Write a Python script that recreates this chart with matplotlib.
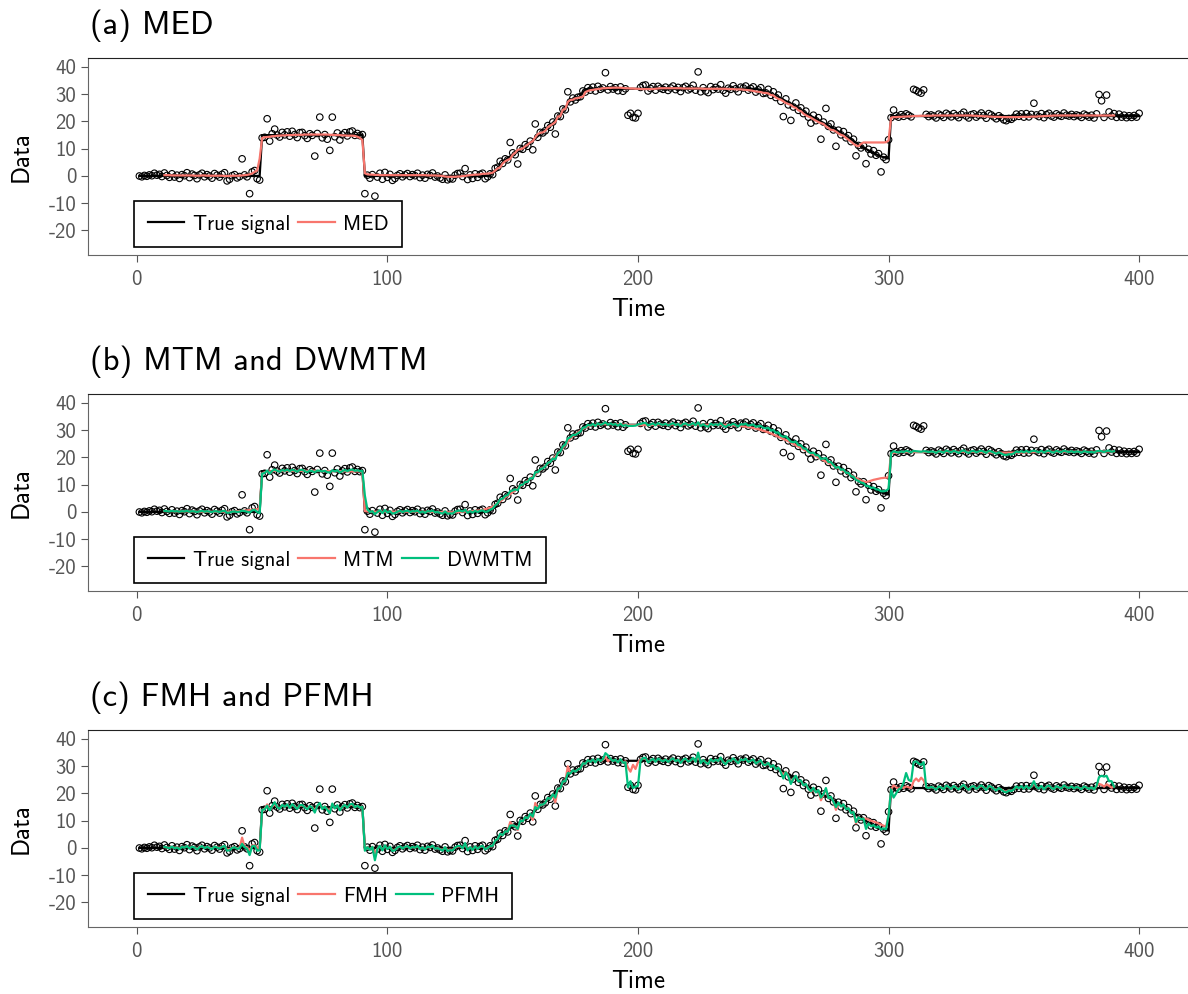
import numpy as np
import matplotlib.pyplot as plt

plt.rcParams['font.family'] = ['cmss10', 'DejaVu Sans']
plt.rcParams['axes.unicode_minus'] = False

# observed series, t = 1..400
time = np.arange(1, 401)
obs = [
    0.0, -0.3, 0.2, -0.1, 0.4, 0.1, 1.0, 0.3, 0.6, -0.2,
    1.1, 0.2, -0.5, 0.8, -0.4, 0.3, -0.9, 0.5, 0.1, 1.2,
    -0.6, 0.7, 0.2, -1.0, 0.4, 1.0, -0.3, 0.5, 0.0, -0.8,
    0.9, 0.3, -0.4, 0.6, 1.2, -1.8, -1.2, 0.1, 0.5, -0.7,
    -0.2, 6.3, 0.4, -0.3, -6.5, 1.5, 2.0, -1.0, -1.5, 14.0,
    14.2, 21.0, 12.8, 15.5, 17.2, 15.0, 14.3, 16.0, 15.1, 16.2,
    14.6, 16.4, 15.2, 14.1, 15.9, 16.0, 14.8, 13.8, 15.5, 14.9,
    7.3, 15.6, 21.6, 14.0, 15.2, 13.5, 9.4, 21.6, 14.4, 15.8,
    13.2, 15.1, 15.9, 14.7, 16.2, 16.5, 14.9, 15.6, 14.8, 15.2,
    -6.5, 0.3, -0.8, 0.5, -7.4, -0.4, 1.0, -1.2, 1.3, -0.5,
    0.6, -1.6, -0.9, 0.2, 0.8, -0.3, 0.4, 0.9, -0.2, 0.5,
    0.1, 1.0, -0.6, 0.3, -0.8, 0.6, 0.2, 1.1, -0.4, 0.0,
    -0.7, -1.2, 0.4, -1.4, -0.9, -1.1, 0.3, 0.9, 1.0, -0.2,
    2.7, -1.3, 0.4, -0.9, 0.8, -0.5, 0.6, 1.0, -1.0, -0.3,
    0.8, 0.5, 2.8, 3.2, 5.4, 4.6, 6.3, 5.9, 12.3, 8.5,
    7.8, 4.4, 10.1, 9.8, 11.5, 10.9, 12.8, 9.6, 19.1, 14.2,
    16.0, 15.8, 16.6, 18.5, 17.9, 19.8, 15.4, 22.0, 21.8, 24.6,
    24.3, 30.9, 27.2, 28.6, 27.9, 28.9, 29.1, 31.2, 30.8, 32.4,
    31.5, 32.6, 31.2, 32.9, 31.8, 32.3, 37.9, 31.6, 32.8, 31.9,
    32.4, 31.3, 32.7, 31.1, 32.0, 22.3, 23.0, 21.5, 21.3, 23.0,
    32.5, 33.2, 33.4, 31.2, 32.1, 32.8, 31.5, 32.9, 32.2, 31.8,
    32.6, 31.4, 32.3, 33.0, 31.7, 32.5, 31.0, 32.4, 32.9, 31.6,
    32.1, 33.3, 31.5, 38.2, 30.9, 32.4, 31.2, 30.6, 32.8, 31.7,
    32.5, 31.9, 33.5, 31.4, 30.4, 32.2, 31.8, 33.1, 32.0, 30.9,
    32.6, 32.3, 33.0, 31.5, 32.1, 32.7, 30.8, 31.6, 32.4, 30.3,
    30.5, 31.8, 29.6, 30.9, 28.8, 29.7, 27.4, 21.8, 28.3, 26.1,
    20.4, 25.3, 26.8, 24.1, 25.0, 22.9, 23.8, 21.6, 19.4, 22.3,
    20.3, 21.4, 13.5, 19.8, 24.8, 18.2, 19.1, 16.9, 10.9, 16.8,
    15.1, 16.3, 14.0, 14.8, 12.6, 13.5, 7.4, 11.2, 10.3, 11.1,
    4.5, 9.8, 8.1, 9.3, 7.6, 8.2, 1.5, 6.9, 6.0, 13.3,
    21.4, 24.2, 22.1, 21.6, 22.5, 21.9, 22.8, 22.3, 21.7, 31.8,
    31.4, 30.8, 30.4, 31.6, 22.6, 21.8, 22.4, 22.0, 21.3, 22.7,
    22.2, 21.5, 23.0, 22.4, 21.7, 22.9, 22.1, 21.4, 22.6, 23.4,
    22.0, 21.3, 22.5, 22.8, 21.6, 22.3, 23.1, 22.2, 21.2, 22.9,
    22.4, 21.7, 21.0, 22.1, 21.4, 20.6, 20.3, 21.1, 20.8, 21.5,
    22.7, 21.9, 22.8, 21.6, 22.9, 21.7, 22.6, 26.7, 22.4, 21.8,
    22.9, 21.4, 22.5, 23.0, 22.0, 21.6, 22.8, 22.2, 21.9, 23.1,
    22.3, 22.0, 22.6, 21.8, 22.4, 22.1, 21.5, 22.7, 22.2, 21.6,
    22.3, 21.3, 22.8, 29.9, 27.6, 21.5, 29.7, 23.5, 22.0, 22.9,
    21.5, 22.7, 21.6, 22.3, 21.4, 22.1, 21.5, 22.2, 21.6, 23.0,
]

true_signal = [
    0, 0, 0, 0, 0, 0, 0, 0, 0, 0,
    0, 0, 0, 0, 0, 0, 0, 0, 0, 0,
    0, 0, 0, 0, 0, 0, 0, 0, 0, 0,
    0, 0, 0, 0, 0, 0, 0, 0, 0, 0,
    0, 0, 0, 0, 0, 0, 0, 0, 0, 15,
    15, 15, 15, 15, 15, 15, 15, 15, 15, 15,
    15, 15, 15, 15, 15, 15, 15, 15, 15, 15,
    15, 15, 15, 15, 15, 15, 15, 15, 15, 15,
    15, 15, 15, 15, 15, 15, 15, 15, 15, 15,
    0, 0, 0, 0, 0, 0, 0, 0, 0, 0,
    0, 0, 0, 0, 0, 0, 0, 0, 0, 0,
    0, 0, 0, 0, 0, 0, 0, 0, 0, 0,
    0, 0, 0, 0, 0, 0, 0, 0, 0, 0,
    0, 0, 0, 0, 0, 0, 0, 0, 0, 0,
    0.3, 1.0, 2.0, 3.0, 4.0, 5.0, 5.8, 6.5, 7.2, 7.8,
    8.4, 9.0, 9.6, 10.2, 10.8, 11.5, 12.2, 13.0, 13.8, 14.6,
    15.4, 16.2, 17.0, 17.8, 18.6, 19.5, 20.5, 21.5, 22.6, 23.8,
    25.0, 26.4, 27.6, 28.2, 28.4, 28.5, 29.5, 30.8, 31.6, 32.0,
    32, 32, 32, 32, 32, 32, 32, 32, 32, 32,
    32, 32, 32, 32, 32, 32, 32, 32, 32, 32,
    32, 32, 32, 32, 32, 32, 32, 32, 32, 32,
    32, 32, 32, 32, 32, 32, 32, 32, 32, 32,
    32, 32, 32, 32, 32, 32, 32, 32, 32, 32,
    32, 32, 32, 32, 32, 32, 32, 32, 32, 32,
    32, 32, 32, 32, 32, 32, 31.9, 31.8, 31.6, 31.3,
    31.0, 30.6, 30.2, 29.8, 29.4, 29.0, 28.5, 28.0, 27.5, 27.0,
    26.5, 26.0, 25.4, 24.8, 24.2, 23.6, 23.0, 22.5, 22.0, 21.5,
    21.0, 20.5, 20.0, 19.5, 19.0, 18.5, 18.0, 17.5, 17.0, 16.4,
    15.8, 15.2, 14.6, 14.0, 13.4, 12.8, 12.2, 11.6, 11.0, 10.4,
    9.9, 9.4, 8.9, 8.4, 8.0, 7.6, 7.2, 6.9, 6.6, 6.4,
    22, 22, 22, 22, 22, 22, 22, 22, 22, 22,
    22, 22, 22, 22, 22, 22, 22, 22, 22, 22,
    22, 22, 22, 22, 22, 22, 22, 22, 22, 22,
    22, 22, 22, 22, 22, 22, 22, 22, 22, 22,
    22, 22, 22, 22, 22, 22, 22, 22, 22, 22,
    22, 22, 22, 22, 22, 22, 22, 22, 22, 22,
    22, 22, 22, 22, 22, 22, 22, 22, 22, 22,
    22, 22, 22, 22, 22, 22, 22, 22, 22, 22,
    22, 22, 22, 22, 22, 22, 22, 22, 22, 22,
    22, 22, 22, 22, 22, 22, 22, 22, 22, 22,
]

# filter outputs, t = 11..390 (window width 21)
t_filt = np.arange(11, 391)
med = [
    0.3, 0.3, 0.3, 0.2, 0.2, 0.2, 0.2, 0.2, 0.2, 0.2,
    0.2, 0.2, 0.1, 0.1, 0.1, 0.2, 0.2, 0.1, 0.1, 0.1,
    0.1, 0.1, 0.1, 0.1, 0.0, 0.0, 0.0, 0.1, 0.1, 0.1,
    0.1, 0.2, 0.3, 0.4, 0.6, 0.9, 1.5, 2.0, 6.3, 14.0,
    14.2, 14.3, 14.4, 14.6, 14.6, 14.8, 14.8, 14.9, 14.9, 15.0,
    15.0, 15.0, 15.1, 15.1, 15.1, 15.1, 15.2, 15.2, 15.2, 15.2,
    15.2, 15.2, 15.2, 15.2, 15.2, 15.2, 15.1, 15.1, 15.1, 15.0,
    15.0, 14.9, 14.9, 14.8, 14.8, 14.8, 14.7, 14.4, 14.0, 13.2,
    1.0, 0.6, 0.5, 0.5, 0.4, 0.4, 0.3, 0.3, 0.3, 0.3,
    0.3, 0.3, 0.3, 0.3, 0.3, 0.3, 0.3, 0.3, 0.3, 0.3,
    0.3, 0.3, 0.3, 0.3, 0.3, 0.2, 0.2, 0.2, 0.2, 0.1,
    0.1, 0.0, -0.2, -0.3, -0.3, -0.3, -0.3, -0.2, -0.2, 0.0,
    0.0, 0.2, 0.3, 0.4, 0.5, 0.5, 0.6, 0.8, 0.8, 0.9,
    1.0, 1.2, 2.0, 2.8, 3.2, 4.6, 5.4, 5.9, 6.3, 7.8,
    8.5, 9.6, 9.8, 10.1, 10.9, 11.5, 12.3, 12.8, 14.2, 15.4,
    15.8, 16.0, 16.6, 17.9, 18.5, 19.1, 19.8, 21.8, 22.0, 24.3,
    24.6, 27.2, 27.9, 28.0, 28.5, 28.6, 28.9, 29.1, 30.8, 31.2,
    31.5, 31.6, 31.8, 31.9, 32.0, 32.2, 32.2, 32.3, 32.3, 32.4,
    32.4, 32.4, 32.4, 32.3, 32.2, 32.2, 32.1, 32.1, 32.0, 32.0,
    31.9, 31.9, 31.9, 31.9, 31.9, 31.9, 32.0, 32.1, 32.2, 32.2,
    32.2, 32.2, 32.2, 32.2, 32.2, 32.2, 32.2, 32.1, 32.1, 32.1,
    32.1, 32.1, 32.1, 32.1, 32.1, 32.0, 32.0, 32.0, 32.0, 32.0,
    32.0, 32.0, 32.0, 32.0, 32.0, 31.9, 31.9, 31.9, 31.8, 31.8,
    31.8, 31.7, 31.6, 31.5, 31.4, 31.2, 31.0, 30.9, 30.8, 30.5,
    30.5, 30.3, 29.7, 29.6, 28.8, 28.3, 28.0, 27.4, 26.8, 26.4,
    26.1, 25.3, 25.0, 24.1, 23.8, 22.9, 22.3, 21.8, 21.4, 20.8,
    20.3, 19.8, 19.4, 19.1, 18.2, 17.6, 16.9, 16.8, 16.3, 15.6,
    15.1, 14.8, 14.0, 13.3, 12.6, 11.8, 11.2, 10.9, 11.8, 12.3,
    12.3, 12.3, 12.3, 12.3, 12.3, 12.3, 12.3, 12.3, 12.4, 13.0,
    21.4, 21.6, 21.6, 21.7, 21.7, 21.8, 21.8, 21.9, 21.9, 22.0,
    22.0, 22.0, 22.1, 22.1, 22.1, 22.1, 22.1, 22.2, 22.2, 22.2,
    22.2, 22.2, 22.2, 22.2, 22.2, 22.2, 22.2, 22.2, 22.2, 22.2,
    22.2, 22.2, 22.2, 22.1, 22.1, 22.0, 22.0, 21.9, 21.9, 21.8,
    21.8, 21.7, 21.7, 21.7, 21.6, 21.6, 21.6, 21.6, 21.6, 21.6,
    21.6, 21.6, 21.7, 21.7, 21.7, 21.7, 21.8, 21.8, 21.8, 21.9,
    21.9, 22.0, 22.0, 22.1, 22.1, 22.2, 22.2, 22.2, 22.2, 22.2,
    22.2, 22.2, 22.2, 22.2, 22.2, 22.2, 22.2, 22.2, 22.2, 22.2,
    22.2, 22.2, 22.2, 22.2, 22.2, 22.2, 22.2, 22.2, 22.2, 22.2,
]

mtm = [
    0.3, 0.3, 0.3, 0.3, 0.2, 0.2, 0.2, 0.2, 0.2, 0.2,
    0.2, 0.2, 0.2, 0.1, 0.1, 0.1, 0.1, 0.1, 0.1, 0.1,
    0.1, 0.1, 0.1, 0.1, 0.1, 0.1, 0.1, 0.1, 0.2, 0.3,
    0.3, 0.4, 0.5, 0.6, 0.7, 0.8, 0.9, 1.0, 1.5, 14.2,
    14.6, 14.8, 14.9, 15.0, 15.1, 15.1, 15.1, 15.1, 15.1, 15.1,
    15.1, 15.1, 15.1, 15.1, 15.1, 15.1, 15.1, 15.1, 15.1, 15.1,
    15.1, 15.1, 15.0, 15.0, 15.0, 15.0, 15.0, 15.0, 15.0, 15.0,
    15.0, 15.0, 15.0, 14.9, 14.9, 14.9, 14.9, 14.9, 14.9, 14.8,
    0.3, 0.2, 0.1, 0.1, 0.1, 0.1, 0.1, 0.1, 0.1, 0.1,
    0.1, 0.1, 0.1, 0.1, 0.1, 0.1, 0.1, 0.1, 0.1, 0.1,
    0.1, 0.1, 0.1, 0.1, 0.1, 0.1, 0.1, 0.0, 0.0, 0.0,
    0.0, 0.0, 0.0, -0.1, -0.1, -0.1, -0.1, -0.1, 0.0, 0.1,
    0.1, 0.2, 0.3, 0.3, 0.4, 0.5, 0.6, 0.8, 1.0, 1.3,
    1.6, 2.0, 2.6, 3.2, 3.9, 4.6, 5.3, 6.0, 6.6, 7.3,
    8.0, 8.7, 9.4, 10.1, 10.8, 11.5, 12.2, 13.0, 13.8, 14.6,
    15.4, 16.2, 17.0, 17.8, 18.6, 19.5, 20.4, 21.4, 22.4, 23.5,
    24.6, 25.8, 26.9, 27.8, 28.5, 29.2, 29.9, 30.5, 31.0, 31.4,
    31.7, 31.9, 32.0, 32.1, 32.2, 32.2, 32.2, 32.2, 32.2, 32.2,
    32.2, 32.2, 32.2, 32.1, 32.0, 31.9, 31.9, 31.9, 31.9, 31.9,
    31.9, 31.9, 31.9, 31.9, 31.9, 32.0, 32.0, 32.1, 32.1, 32.1,
    32.1, 32.1, 32.1, 32.1, 32.1, 32.1, 32.1, 32.1, 32.1, 32.1,
    32.1, 32.1, 32.1, 32.1, 32.0, 32.0, 32.0, 32.0, 32.0, 32.0,
    32.0, 32.0, 32.0, 32.0, 32.0, 31.9, 31.9, 31.8, 31.7, 31.6,
    31.5, 31.4, 31.3, 31.2, 31.0, 30.8, 30.6, 30.4, 30.1, 29.8,
    29.5, 29.2, 28.8, 28.4, 28.0, 27.6, 27.2, 26.8, 26.4, 26.0,
    25.5, 25.0, 24.5, 24.0, 23.5, 23.0, 22.5, 22.0, 21.5, 21.0,
    20.5, 20.0, 19.5, 19.0, 18.5, 18.0, 17.5, 17.0, 16.5, 16.0,
    15.5, 15.0, 14.5, 14.0, 13.5, 13.0, 12.5, 12.0, 11.5, 11.2,
    11.0, 11.2, 11.5, 11.8, 12.0, 12.2, 12.4, 12.5, 12.6, 12.7,
    21.5, 21.7, 21.8, 21.9, 22.0, 22.0, 22.0, 22.0, 22.0, 22.0,
    22.0, 22.0, 22.0, 22.0, 22.0, 22.0, 22.0, 22.0, 22.0, 22.0,
    22.1, 22.1, 22.1, 22.1, 22.1, 22.1, 22.1, 22.1, 22.1, 22.1,
    22.1, 22.1, 22.1, 22.1, 22.0, 22.0, 22.0, 21.9, 21.9, 21.9,
    21.8, 21.8, 21.8, 21.8, 21.8, 21.8, 21.8, 21.8, 21.8, 21.8,
    21.8, 21.8, 21.8, 21.8, 21.9, 21.9, 21.9, 22.0, 22.0, 22.0,
    22.0, 22.0, 22.1, 22.1, 22.1, 22.1, 22.1, 22.1, 22.1, 22.1,
    22.1, 22.1, 22.1, 22.1, 22.1, 22.1, 22.1, 22.1, 22.1, 22.1,
    22.1, 22.1, 22.1, 22.2, 22.2, 22.2, 22.2, 22.2, 22.2, 22.2,
]

dwmtm = [
    0.4, 0.3, 0.2, 0.4, 0.2, 0.3, 0.1, 0.3, 0.2, 0.4,
    0.1, 0.3, 0.2, 0.0, 0.2, 0.4, 0.1, 0.3, 0.1, 0.0,
    0.3, 0.2, 0.0, 0.3, 0.4, -0.3, -0.2, 0.1, 0.2, 0.0,
    0.1, 0.5, 0.3, 0.1, -0.2, 0.6, 0.8, 0.0, -0.4, 14.1,
    14.3, 15.2, 14.1, 15.1, 15.6, 15.1, 14.8, 15.4, 15.1, 15.5,
    15.0, 15.5, 15.2, 14.8, 15.4, 15.5, 15.0, 14.6, 15.2, 15.0,
    14.6, 15.2, 15.1, 14.9, 15.1, 14.6, 14.5, 15.3, 14.9, 15.3,
    14.5, 15.0, 15.4, 15.0, 15.4, 15.6, 15.1, 15.3, 15.0, 15.1,
    6.0, 1.0, 0.0, 0.3, -0.8, 0.0, 0.6, -0.4, 0.7, -0.2,
    0.3, -0.6, -0.4, 0.1, 0.4, 0.0, 0.3, 0.5, 0.0, 0.3,
    0.2, 0.5, -0.2, 0.2, -0.3, 0.3, 0.2, 0.5, -0.1, 0.0,
    -0.3, -0.6, 0.2, -0.6, -0.5, -0.6, 0.1, 0.4, 0.5, 0.2,
    0.8, -0.3, 0.3, -0.2, 0.4, 0.0, 0.4, 0.6, 0.0, 0.2,
    0.8, 1.2, 2.4, 3.2, 4.6, 4.9, 5.9, 6.2, 7.6, 7.9,
    8.3, 8.0, 9.8, 10.0, 11.0, 11.1, 12.4, 12.3, 14.5, 14.6,
    15.6, 16.0, 16.8, 18.0, 18.4, 19.6, 19.4, 21.6, 22.2, 24.0,
    24.8, 27.0, 27.4, 28.3, 28.3, 28.9, 29.5, 30.9, 31.1, 32.0,
    31.7, 32.3, 31.6, 32.5, 32.0, 32.3, 32.9, 32.0, 32.5, 32.0,
    32.3, 31.7, 32.4, 31.6, 31.9, 31.6, 31.6, 31.6, 31.7, 32.1,
    32.3, 32.6, 32.7, 31.8, 32.1, 32.5, 31.8, 32.6, 32.2, 32.0,
    32.4, 31.8, 32.2, 32.6, 31.9, 32.3, 31.5, 32.3, 32.5, 31.9,
    32.1, 32.6, 31.8, 32.9, 31.5, 32.2, 31.6, 31.3, 32.4, 31.9,
    32.2, 31.9, 32.6, 31.7, 31.2, 32.0, 31.9, 32.4, 31.9, 31.4,
    32.2, 32.1, 32.4, 31.7, 31.9, 32.1, 31.3, 31.5, 31.6, 30.9,
    30.7, 30.9, 29.9, 30.1, 29.1, 29.2, 28.0, 27.6, 27.8, 26.8,
    25.8, 25.6, 25.9, 24.5, 24.5, 23.3, 23.2, 22.1, 21.6, 21.8,
    20.8, 20.8, 19.5, 19.6, 19.8, 18.3, 18.3, 17.2, 16.2, 16.5,
    15.5, 15.6, 14.4, 14.3, 13.2, 12.9, 11.8, 11.4, 10.8, 10.6,
    9.6, 9.5, 8.8, 9.0, 8.3, 8.2, 7.6, 7.6, 7.8, 8.5,
    21.6, 22.3, 22.0, 21.8, 22.2, 22.0, 22.4, 22.2, 21.9, 22.4,
    22.3, 22.2, 22.1, 22.3, 22.2, 22.0, 22.2, 22.1, 21.7, 22.3,
    22.1, 21.8, 22.5, 22.2, 21.9, 22.4, 22.1, 21.7, 22.3, 22.6,
    22.0, 21.7, 22.3, 22.4, 21.9, 22.2, 22.5, 22.1, 21.7, 22.4,
    22.2, 21.8, 21.4, 21.9, 21.5, 21.0, 20.9, 21.2, 21.1, 21.5,
    22.2, 21.9, 22.3, 21.9, 22.4, 21.9, 22.3, 22.5, 22.2, 21.9,
    22.4, 21.8, 22.3, 22.5, 22.0, 21.8, 22.4, 22.1, 22.0, 22.5,
    22.2, 22.0, 22.3, 21.9, 22.2, 22.1, 21.8, 22.3, 22.1, 21.9,
    22.1, 21.8, 22.3, 22.4, 22.3, 22.0, 22.4, 22.5, 22.1, 22.3,
]

fmh = [
    0.3, 0.2, 0.1, 0.4, 0.0, 0.3, -0.2, 0.4, 0.2, 0.6,
    0.0, 0.5, 0.2, -0.3, 0.4, 0.6, 0.0, 0.4, 0.1, -0.2,
    0.5, 0.3, 0.0, 0.5, 0.6, -0.5, -0.4, 0.1, 0.3, -0.1,
    0.0, 3.8, 0.4, 0.2, -0.8, 0.9, 1.0, 0.2, -0.3, 14.0,
    14.4, 16.0, 14.2, 15.2, 16.0, 15.0, 14.6, 15.6, 15.1, 15.7,
    14.9, 15.8, 15.2, 14.6, 15.5, 15.6, 15.0, 14.5, 15.3, 15.0,
    14.0, 15.4, 16.2, 14.6, 15.2, 14.3, 13.8, 16.0, 14.7, 15.5,
    14.2, 15.1, 15.6, 14.9, 15.7, 15.9, 15.0, 15.4, 14.9, 15.1,
    -0.5, 0.3, -0.6, 0.4, -2.0, -0.3, 0.7, -0.6, 0.8, -0.3,
    0.4, -0.8, -0.6, 0.1, 0.5, -0.1, 0.3, 0.6, -0.1, 0.3,
    0.1, 0.6, -0.3, 0.2, -0.4, 0.4, 0.1, 0.7, -0.2, 0.0,
    -0.4, -0.7, 0.2, -0.8, -0.6, -0.7, 0.1, 0.5, 0.6, 0.0,
    1.4, -0.6, 0.2, -0.5, 0.5, -0.2, 0.4, 0.7, -0.3, 0.0,
    0.6, 0.8, 2.6, 3.3, 4.8, 4.9, 6.0, 6.1, 9.5, 8.2,
    8.0, 6.6, 9.9, 9.8, 11.2, 10.9, 12.5, 10.3, 16.5, 14.4,
    15.9, 15.9, 16.6, 18.3, 18.1, 19.6, 16.8, 21.7, 21.9, 24.2,
    24.6, 30.0, 27.4, 28.4, 28.1, 28.8, 29.3, 31.0, 31.0, 32.0,
    31.7, 32.4, 31.5, 32.6, 31.9, 32.3, 33.5, 31.8, 32.6, 32.0,
    32.3, 31.5, 32.5, 31.4, 31.8, 29.5, 28.0, 30.5, 29.0, 31.5,
    32.4, 32.8, 32.8, 31.6, 32.1, 32.6, 31.7, 32.7, 32.2, 31.9,
    32.5, 31.7, 32.3, 32.8, 31.8, 32.4, 31.3, 32.3, 32.7, 31.8,
    32.1, 32.9, 31.7, 33.8, 31.3, 32.3, 31.5, 31.0, 32.5, 31.8,
    32.3, 31.9, 33.0, 31.6, 31.0, 32.1, 31.9, 32.7, 32.0, 31.3,
    32.4, 32.2, 32.7, 31.7, 32.0, 32.4, 31.1, 31.6, 31.9, 30.8,
    30.6, 31.0, 29.8, 30.2, 29.0, 29.4, 27.9, 27.0, 28.0, 26.5,
    24.0, 25.5, 26.3, 24.6, 24.6, 23.2, 23.3, 21.8, 20.5, 22.0,
    20.6, 21.0, 17.5, 19.6, 21.5, 18.3, 18.6, 17.0, 14.0, 16.6,
    15.4, 15.8, 14.3, 14.5, 12.9, 13.0, 9.0, 11.4, 10.5, 10.8,
    10.8, 10.4, 10.0, 9.7, 9.4, 9.0, 8.6, 8.2, 7.8, 12.0,
    21.5, 23.0, 22.3, 21.7, 22.4, 22.0, 22.6, 22.3, 21.9, 24.5,
    25.5, 24.5, 25.8, 24.8, 22.5, 22.0, 22.3, 22.1, 21.6, 22.5,
    22.2, 21.7, 22.8, 22.3, 21.8, 22.6, 22.1, 21.6, 22.4, 23.0,
    22.0, 21.5, 22.4, 22.6, 21.8, 22.2, 22.8, 22.2, 21.5, 22.6,
    22.3, 21.8, 21.3, 21.9, 21.5, 20.9, 20.7, 21.2, 21.0, 21.5,
    22.3, 21.9, 22.5, 21.8, 22.6, 21.8, 22.4, 23.8, 22.3, 21.9,
    22.6, 21.6, 22.4, 22.7, 22.0, 21.7, 22.5, 22.2, 22.0, 22.8,
    22.3, 22.0, 22.5, 21.9, 22.3, 22.1, 21.7, 22.5, 22.2, 21.8,
    22.2, 21.6, 22.6, 23.5, 23.2, 22.5, 23.4, 22.8, 22.1, 22.6,
]

pfmh = [
    0.4, 0.2, -0.1, 0.5, -0.1, 0.2, -0.4, 0.4, 0.1, 0.7,
    -0.2, 0.5, 0.2, -0.5, 0.3, 0.7, -0.1, 0.4, 0.0, -0.4,
    0.5, 0.2, -0.2, 0.4, 0.8, -1.0, -0.8, 0.0, 0.3, -0.3,
    -0.1, 1.5, 0.3, -0.3, -2.6, 0.6, 0.8, -1.0, -0.8, 14.0,
    14.2, 15.5, 13.8, 15.4, 16.8, 15.0, 14.4, 15.8, 15.1, 16.0,
    14.7, 16.1, 15.2, 14.3, 15.7, 15.8, 14.9, 14.2, 15.4, 14.9,
    13.0, 15.5, 16.5, 14.3, 15.2, 14.0, 12.8, 16.3, 14.5, 15.7,
    13.8, 15.1, 15.8, 14.8, 16.0, 16.2, 14.9, 15.5, 14.8, 15.1,
    -1.0, 0.3, -0.7, 0.4, -4.5, -0.4, 0.8, -0.9, 1.0, -0.4,
    0.5, -1.1, -0.8, 0.2, 0.6, -0.2, 0.4, 0.7, -0.2, 0.4,
    0.1, 0.8, -0.4, 0.3, -0.6, 0.5, 0.2, 0.9, -0.3, 0.0,
    -0.5, -1.0, 0.3, -1.1, -0.8, -0.9, 0.2, 0.7, 0.8, -0.1,
    1.8, -0.9, 0.3, -0.7, 0.6, -0.3, 0.5, 0.8, -0.5, 0.0,
    0.7, 0.8, 2.7, 3.3, 5.2, 4.7, 6.1, 6.0, 8.2, 8.3,
    7.9, 7.0, 10.0, 9.8, 11.3, 10.9, 12.6, 11.5, 15.0, 14.3,
    15.9, 15.9, 16.6, 18.4, 18.0, 19.7, 18.5, 21.8, 21.9, 24.4,
    24.5, 27.5, 27.3, 28.5, 28.0, 28.8, 29.2, 31.1, 30.9, 32.2,
    31.6, 32.5, 31.4, 32.7, 31.9, 32.6, 34.8, 34.0, 32.7, 31.9,
    32.4, 31.4, 32.6, 31.3, 31.5, 22.3, 24.5, 22.0, 22.5, 22.8,
    32.0, 33.0, 33.1, 31.4, 32.1, 32.7, 31.6, 32.8, 32.2, 31.8,
    32.5, 31.6, 32.3, 32.9, 31.8, 32.4, 31.2, 32.4, 32.8, 31.7,
    32.1, 33.1, 31.6, 35.0, 31.1, 32.3, 31.4, 30.8, 32.6, 31.7,
    32.4, 31.9, 33.2, 31.5, 30.7, 32.1, 31.9, 32.9, 32.0, 31.1,
    32.5, 32.2, 32.8, 31.6, 32.0, 32.5, 31.0, 31.6, 32.1, 30.6,
    30.5, 31.2, 29.7, 30.4, 28.9, 29.5, 27.8, 25.5, 27.8, 26.3,
    23.5, 25.4, 26.5, 24.4, 24.8, 23.0, 23.5, 21.7, 20.8, 22.1,
    20.4, 21.2, 18.5, 19.7, 22.0, 18.3, 18.8, 17.0, 15.0, 16.7,
    15.2, 16.0, 14.2, 14.6, 12.8, 13.2, 9.5, 11.3, 10.5, 10.8,
    7.0, 9.0, 8.0, 8.4, 7.5, 7.8, 6.8, 7.2, 6.9, 12.0,
    21.5, 18.5, 20.0, 21.5, 22.0, 24.0, 27.5, 25.0, 24.5, 31.5,
    31.8, 31.0, 30.5, 31.5, 22.3, 22.0, 22.4, 22.1, 21.4, 22.6,
    22.2, 21.6, 22.9, 22.4, 21.7, 22.8, 22.1, 21.5, 22.5, 23.2,
    22.0, 21.4, 22.5, 22.7, 21.7, 22.3, 23.0, 22.2, 21.3, 22.8,
    22.4, 21.7, 21.1, 22.0, 21.4, 20.7, 20.4, 21.1, 20.9, 21.5,
    22.6, 21.9, 22.7, 21.7, 22.8, 21.8, 22.6, 24.5, 22.4, 21.8,
    22.8, 21.5, 22.5, 22.9, 22.0, 21.6, 22.7, 22.2, 21.9, 23.0,
    22.3, 22.0, 22.6, 21.8, 22.4, 22.1, 21.6, 22.6, 22.2, 21.7,
    22.3, 21.5, 22.8, 26.0, 26.5, 26.2, 26.5, 24.5, 24.5, 22.5,
]

RED = '#F8766D'
GREEN = '#00BF7D'

panels = [
    ('(a) MED', [('MED', med, RED)]),
    ('(b) MTM and DWMTM', [('MTM', mtm, RED), ('DWMTM', dwmtm, GREEN)]),
    ('(c) FMH and PFMH', [('FMH', fmh, RED), ('PFMH', pfmh, GREEN)]),
]

W, H = 1188, 994
fig = plt.figure(figsize=(W / 100, H / 100), dpi=100)

tops = [58, 394, 730]
for top, (title, filters) in zip(tops, panels):
    ax = fig.add_axes([88 / W, 1 - (top + 197) / H, 1100 / W, 197 / H])
    ax.scatter(time, obs, s=22, facecolors='none', edgecolors='black',
               linewidths=0.8, zorder=2)
    ax.plot(time, true_signal, color='black', lw=1.6, label='True signal', zorder=3)
    for name, vals, col in filters:
        ax.plot(t_filt, vals, color=col, lw=1.6, label=name, zorder=4)

    ax.set_xlim(-19.5, 419.5)
    ax.set_ylim(-29, 43.3)
    ax.set_xticks([0, 100, 200, 300, 400])
    ax.set_yticks([-20, -10, 0, 10, 20, 30, 40])
    ax.tick_params(colors='#555555', labelsize=15, length=5, width=0.8)
    ax.tick_params(axis='x', pad=6)
    for side in ['left', 'bottom']:
        ax.spines[side].set_color('#666666')
    ax.spines['top'].set_color('#222222')
    ax.spines['right'].set_visible(False)
    ax.set_xlabel('Time', fontsize=18, labelpad=6)
    ax.set_ylabel('Data', fontsize=18, labelpad=11)
    ax.set_title(title, loc='left', fontsize=23.5, pad=17, x=0.002)

    leg = ax.legend(loc='lower left', bbox_to_anchor=(0.042, 0.04), borderaxespad=0,
                    ncol=3, fontsize=15, fancybox=False, edgecolor='black',
                    framealpha=1, handlelength=1.75, handletextpad=0.4,
                    columnspacing=0.4, borderpad=0.65)
    leg.get_frame().set_linewidth(1.2)

fig.savefig('out.png', dpi=100)
